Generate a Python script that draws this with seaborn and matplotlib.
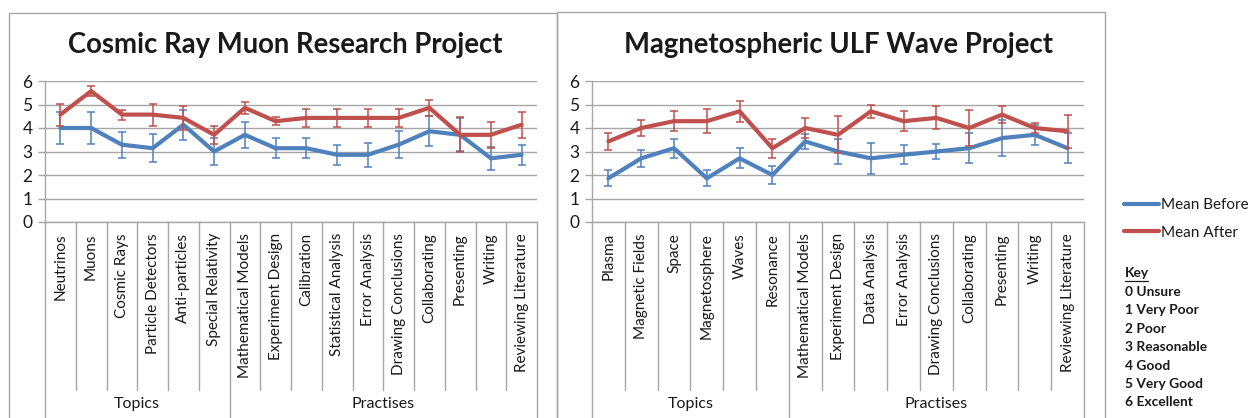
import numpy as np
import pandas as pd
import matplotlib
matplotlib.use("Agg")
import matplotlib.pyplot as plt
import matplotlib.transforms as mtrans
from matplotlib.lines import Line2D
from matplotlib.patches import Rectangle
import seaborn as sns

# ---------------- data ----------------
series_names = ["Mean Before", "Mean After"]

cr_title = "Cosmic Ray Muon Research Project"
cr_topics = ["Neutrinos", "Muons", "Cosmic Rays", "Particle Detectors",
             "Anti-particles", "Special Relativity"]
cr_practises = ["Mathematical Models", "Experiment Design", "Calibration",
                "Statistical Analysis", "Error Analysis", "Drawing Conclusions",
                "Collaborating", "Presenting", "Writing", "Reviewing Literature"]
cr_before = [4.0, 4.0, 3.29, 3.14, 4.14, 3.0, 3.71, 3.14, 3.14, 2.86, 2.86,
             3.29, 3.86, 3.71, 2.71, 2.86]
cr_before_err = [0.66, 0.70, 0.56, 0.60, 0.64, 0.58, 0.56, 0.43, 0.43, 0.43,
                 0.50, 0.57, 0.64, 0.70, 0.50, 0.43]
cr_after = [4.57, 5.57, 4.57, 4.57, 4.43, 3.71, 4.86, 4.29, 4.43, 4.43, 4.43,
            4.43, 4.86, 3.71, 3.71, 4.14]
cr_after_err = [0.47, 0.20, 0.21, 0.47, 0.50, 0.37, 0.26, 0.18, 0.39, 0.39,
                0.39, 0.39, 0.33, 0.75, 0.55, 0.55]

ulf_title = "Magnetospheric ULF Wave Project"
ulf_topics = ["Plasma", "Magnetic Fields", "Space", "Magnetosphere", "Waves",
              "Resonance"]
ulf_practises = ["Mathematical Models", "Experiment Design", "Data Analysis",
                 "Error Analysis", "Drawing Conclusions", "Collaborating",
                 "Presenting", "Writing", "Reviewing Literature"]
ulf_before = [1.86, 2.71, 3.14, 1.86, 2.71, 2.0, 3.43, 3.0, 2.71, 2.86, 3.0,
              3.14, 3.57, 3.71, 3.14]
ulf_before_err = [0.34, 0.36, 0.40, 0.34, 0.42, 0.37, 0.31, 0.55, 0.65, 0.40,
                  0.31, 0.65, 0.75, 0.43, 0.64]
ulf_after = [3.43, 4.0, 4.29, 4.29, 4.71, 3.14, 4.0, 3.71, 4.71, 4.29, 4.43,
             4.0, 4.57, 4.0, 3.86]
ulf_after_err = [0.37, 0.32, 0.43, 0.51, 0.46, 0.41, 0.42, 0.78, 0.29, 0.42,
                 0.49, 0.75, 0.36, 0.20, 0.70]

group_names = ["Topics", "Practises"]
y_ticks = [0, 1, 2, 3, 4, 5, 6]
key_title = "Key"
key_lines = ["0 Unsure", "1 Very Poor", "2 Poor", "3 Reasonable", "4 Good",
             "5 Very Good", "6 Excellent"]

# ---------------- style ----------------
sns.set_theme(style="white")
plt.rcParams['font.family'] = ['Lato', 'DejaVu Sans']

W, H = 1252, 418
fig = plt.figure(figsize=(W / 100, H / 100), dpi=100)

BLUE = '#4F81BD'
RED = '#C0504D'
GRID = '#A6A6A6'
TXT = '#1a1a1a'


def px_axes(x0, y_top, x1, y_bot):
    return fig.add_axes([x0 / W, 1 - y_bot / H, (x1 - x0) / W, (y_bot - y_top) / H])


def panel(ax, topics, practises, before, berr, after, aerr):
    cats = topics + practises
    n = len(cats)
    pos = np.arange(n)
    df = pd.DataFrame({
        'pos': np.concatenate([pos, pos]),
        'score': list(before) + list(after),
        'series': [series_names[0]] * n + [series_names[1]] * n,
    })
    ax.yaxis.grid(True, color=GRID, lw=1)
    ax.set_axisbelow(True)
    sns.lineplot(data=df[df.series == series_names[0]], x='pos', y='score',
                 color=BLUE, linewidth=3, errorbar=None, ax=ax, legend=False)
    ax.errorbar(pos, before, yerr=berr, fmt='none', ecolor=BLUE,
                elinewidth=1.1, capsize=3, capthick=1.1)
    sns.lineplot(data=df[df.series == series_names[1]], x='pos', y='score',
                 color=RED, linewidth=3, errorbar=None, ax=ax, legend=False)
    ax.errorbar(pos, after, yerr=aerr, fmt='none', ecolor=RED,
                elinewidth=1.1, capsize=3, capthick=1.1)
    ax.set_xlim(-0.5, n - 0.5)
    ax.set_ylim(0, 6)
    ax.set_yticks(y_ticks)
    for s in ['top', 'right']:
        ax.spines[s].set_visible(False)
    for s in ['left', 'bottom']:
        ax.spines[s].set_color(GRID)
        ax.spines[s].set_linewidth(1)
    ax.tick_params(axis='y', left=True, length=5, color=GRID, width=1,
                   direction='out', labelsize=12.5, pad=4, labelcolor=TXT)
    ax.set_xticks(pos)
    ax.set_xticklabels(cats, rotation=90, fontsize=11, color=TXT)
    ax.tick_params(axis='x', bottom=False, length=0, pad=8)
    ax.set_xlabel('')
    ax.set_ylabel('')
    trans = mtrans.blended_transform_factory(ax.transData, ax.transAxes)
    ng = len(topics)
    for b in np.arange(n + 1) - 0.5:
        is_group = b in (-0.5, ng - 0.5, n - 0.5)
        ax.plot([b, b], [0, -1.6 if is_group else -1.19], transform=trans,
                color=GRID, lw=1, clip_on=False)
    ax.text((ng - 1) / 2, -1.29, group_names[0], transform=trans, ha='center',
            va='center', fontsize=11.5, color=TXT)
    ax.text((ng + n - 1) / 2, -1.29, group_names[1], transform=trans,
            ha='center', va='center', fontsize=11.5, color=TXT)


ax1 = px_axes(45, 81, 537, 222)
panel(ax1, cr_topics, cr_practises, cr_before, cr_before_err, cr_after, cr_after_err)
ax2 = px_axes(592, 81, 1084, 222)
panel(ax2, ulf_topics, ulf_practises, ulf_before, ulf_before_err, ulf_after, ulf_after_err)

# titles
fig.text(285 / W, 1 - 45 / H, cr_title, ha='center', va='center',
         fontsize=19.8, fontweight='bold', color=TXT)
fig.text(839 / W, 1 - 45 / H, ulf_title, ha='center', va='center',
         fontsize=19.8, fontweight='bold', color=TXT)

# panel frames
for x0, x1, yt in [(9, 557, 13), (557, 1105, 12)]:
    fig.add_artist(Rectangle((x0 / W, -0.2), (x1 - x0) / W, 1.2 - yt / H,
                             transform=fig.transFigure, fill=False,
                             ec=GRID, lw=1))

# legend
handles = [Line2D([], [], color=BLUE, lw=3), Line2D([], [], color=RED, lw=3)]
fig.legend(handles, series_names, loc='upper left',
           bbox_to_anchor=(1124 / W, 1 - 198 / H), frameon=False, fontsize=11,
           handlelength=2.3, handletextpad=0.15, labelspacing=0.9,
           borderpad=0, borderaxespad=0, labelcolor=TXT)

# key
kx = 1125 / W
fig.text(kx, 1 - 273 / H, key_title, ha='left', va='center', fontsize=9.9,
         fontweight='bold', color=TXT)
fig.add_artist(Line2D([kx, 1148 / W], [1 - 281 / H, 1 - 281 / H],
                      transform=fig.transFigure, color=TXT, lw=0.9))
for i, t in enumerate(key_lines):
    fig.text(kx, 1 - (292 + 18.4 * i) / H, t, ha='left', va='center',
             fontsize=9.9, fontweight='bold', color=TXT)

fig.savefig('out.png', dpi=100)
